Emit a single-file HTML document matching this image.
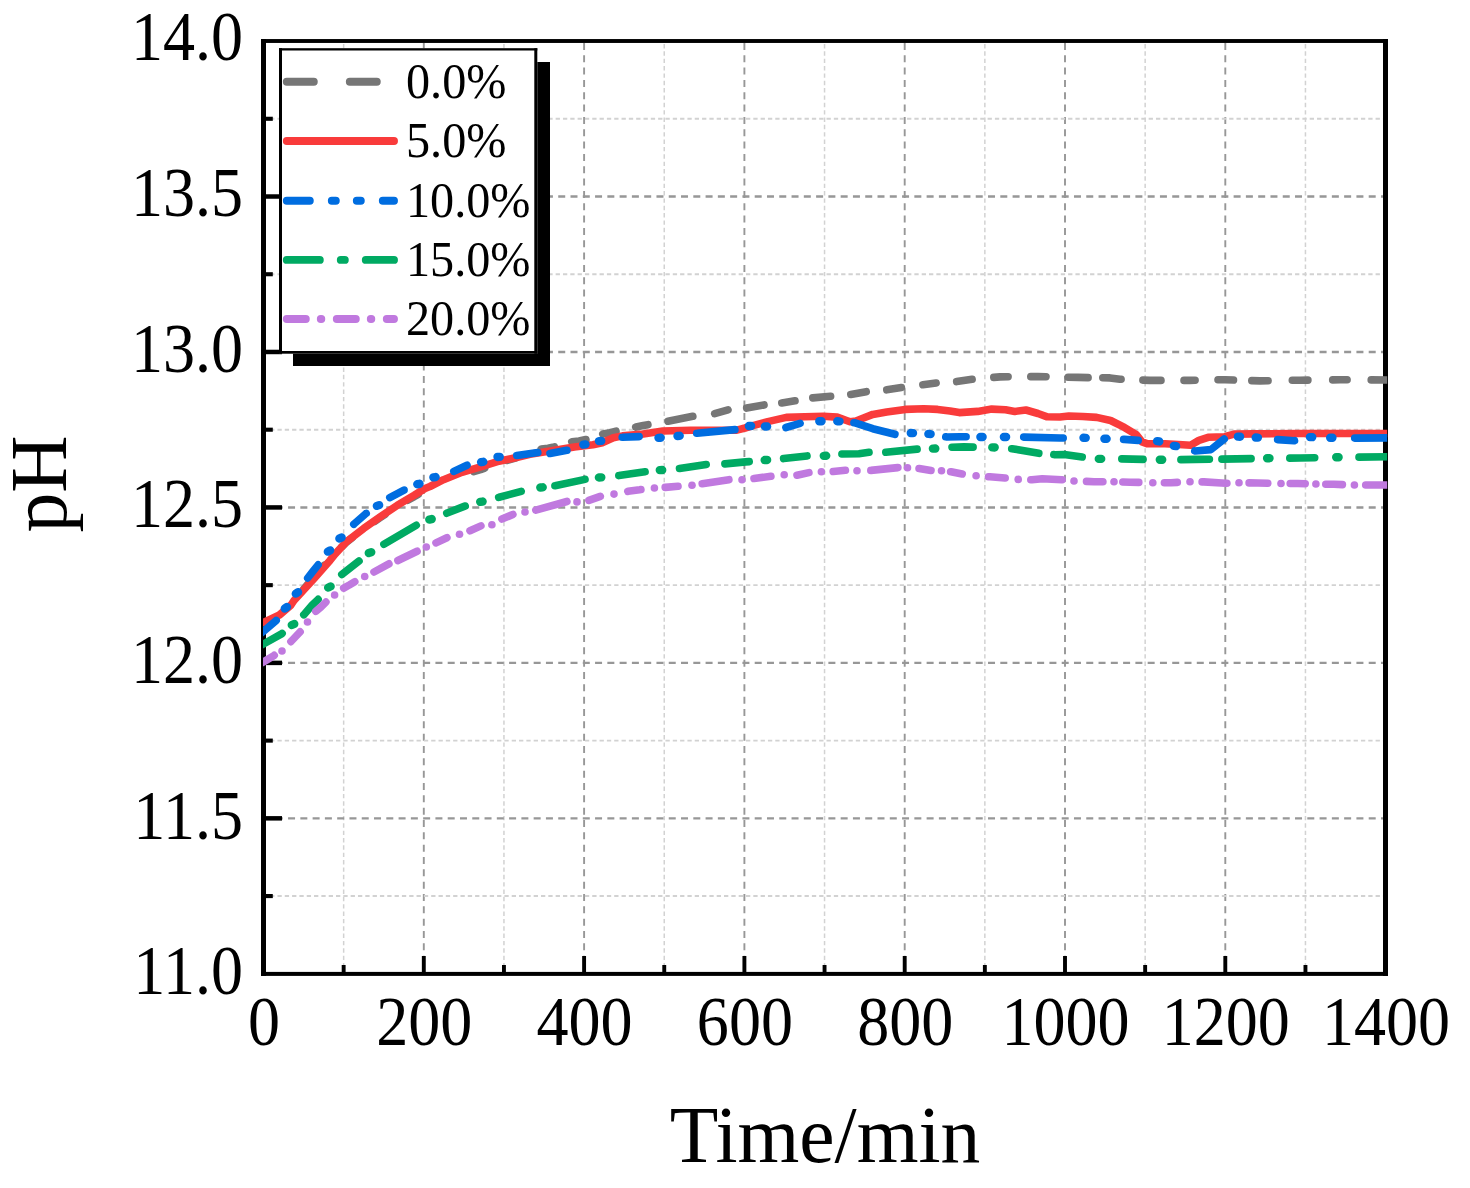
<!DOCTYPE html><html><head><meta charset="utf-8"><style>html,body{margin:0;padding:0;background:#fff;width:1470px;height:1188px;overflow:hidden}svg{display:block}</style></head><body>
<svg width="1470" height="1188" viewBox="0 0 1470 1188">
<rect width="1470" height="1188" fill="#fff"/>
<line x1="343.65" y1="44" x2="343.65" y2="972" stroke="#d2d2d2" stroke-width="1.5" stroke-dasharray="4.4 2.952"/>
<line x1="423.80" y1="42.9" x2="423.80" y2="972" stroke="#979797" stroke-width="1.9" stroke-dasharray="7 5.335"/>
<line x1="503.95" y1="44" x2="503.95" y2="972" stroke="#d2d2d2" stroke-width="1.5" stroke-dasharray="4.4 2.952"/>
<line x1="584.10" y1="42.9" x2="584.10" y2="972" stroke="#979797" stroke-width="1.9" stroke-dasharray="7 5.335"/>
<line x1="664.25" y1="44" x2="664.25" y2="972" stroke="#d2d2d2" stroke-width="1.5" stroke-dasharray="4.4 2.952"/>
<line x1="744.40" y1="42.9" x2="744.40" y2="972" stroke="#979797" stroke-width="1.9" stroke-dasharray="7 5.335"/>
<line x1="824.55" y1="44" x2="824.55" y2="972" stroke="#d2d2d2" stroke-width="1.5" stroke-dasharray="4.4 2.952"/>
<line x1="904.70" y1="42.9" x2="904.70" y2="972" stroke="#979797" stroke-width="1.9" stroke-dasharray="7 5.335"/>
<line x1="984.85" y1="44" x2="984.85" y2="972" stroke="#d2d2d2" stroke-width="1.5" stroke-dasharray="4.4 2.952"/>
<line x1="1065.00" y1="42.9" x2="1065.00" y2="972" stroke="#979797" stroke-width="1.9" stroke-dasharray="7 5.335"/>
<line x1="1145.15" y1="44" x2="1145.15" y2="972" stroke="#d2d2d2" stroke-width="1.5" stroke-dasharray="4.4 2.952"/>
<line x1="1225.30" y1="42.9" x2="1225.30" y2="972" stroke="#979797" stroke-width="1.9" stroke-dasharray="7 5.335"/>
<line x1="1305.45" y1="44" x2="1305.45" y2="972" stroke="#d2d2d2" stroke-width="1.5" stroke-dasharray="4.4 2.952"/>
<line x1="262.8" y1="118.78" x2="1383.5" y2="118.78" stroke="#d2d2d2" stroke-width="1.9" stroke-dasharray="4.3 3.021"/>
<line x1="263.5" y1="196.51" x2="1383.5" y2="196.51" stroke="#979797" stroke-width="2.4" stroke-dasharray="7 5.28"/>
<line x1="262.8" y1="274.24" x2="1383.5" y2="274.24" stroke="#d2d2d2" stroke-width="1.9" stroke-dasharray="4.3 3.021"/>
<line x1="263.5" y1="351.97" x2="1383.5" y2="351.97" stroke="#979797" stroke-width="2.4" stroke-dasharray="7 5.28"/>
<line x1="262.8" y1="429.70" x2="1383.5" y2="429.70" stroke="#d2d2d2" stroke-width="1.9" stroke-dasharray="4.3 3.021"/>
<line x1="263.5" y1="507.43" x2="1383.5" y2="507.43" stroke="#979797" stroke-width="2.4" stroke-dasharray="7 5.28"/>
<line x1="262.8" y1="585.15" x2="1383.5" y2="585.15" stroke="#d2d2d2" stroke-width="1.9" stroke-dasharray="4.3 3.021"/>
<line x1="263.5" y1="662.88" x2="1383.5" y2="662.88" stroke="#979797" stroke-width="2.4" stroke-dasharray="7 5.28"/>
<line x1="262.8" y1="740.61" x2="1383.5" y2="740.61" stroke="#d2d2d2" stroke-width="1.9" stroke-dasharray="4.3 3.021"/>
<line x1="263.5" y1="818.34" x2="1383.5" y2="818.34" stroke="#979797" stroke-width="2.4" stroke-dasharray="7 5.28"/>
<line x1="262.8" y1="896.07" x2="1383.5" y2="896.07" stroke="#d2d2d2" stroke-width="1.9" stroke-dasharray="4.3 3.021"/>
<rect x="261" y="39.05" width="1127" height="3.9" fill="#000"/>
<rect x="261" y="971.9" width="1127" height="4" fill="#000"/>
<rect x="261" y="39.05" width="5" height="936.85" fill="#000"/>
<rect x="1383" y="39.05" width="5" height="936.85" fill="#000"/>
<line x1="264" y1="118.78" x2="272.8" y2="118.78" stroke="#000" stroke-width="4.1"/>
<line x1="264" y1="196.51" x2="282.0" y2="196.51" stroke="#000" stroke-width="4.5"/>
<line x1="264" y1="274.24" x2="272.8" y2="274.24" stroke="#000" stroke-width="4.1"/>
<line x1="264" y1="351.97" x2="282.0" y2="351.97" stroke="#000" stroke-width="4.5"/>
<line x1="264" y1="429.70" x2="272.8" y2="429.70" stroke="#000" stroke-width="4.1"/>
<line x1="264" y1="507.43" x2="282.0" y2="507.43" stroke="#000" stroke-width="4.5"/>
<line x1="264" y1="585.15" x2="272.8" y2="585.15" stroke="#000" stroke-width="4.1"/>
<line x1="264" y1="662.88" x2="282.0" y2="662.88" stroke="#000" stroke-width="4.5"/>
<line x1="264" y1="740.61" x2="272.8" y2="740.61" stroke="#000" stroke-width="4.1"/>
<line x1="264" y1="818.34" x2="282.0" y2="818.34" stroke="#000" stroke-width="4.5"/>
<line x1="264" y1="896.07" x2="272.8" y2="896.07" stroke="#000" stroke-width="4.1"/>
<line x1="343.65" y1="973" x2="343.65" y2="965.0" stroke="#000" stroke-width="3.9"/>
<line x1="423.80" y1="973" x2="423.80" y2="956.0" stroke="#000" stroke-width="3.9"/>
<line x1="503.95" y1="973" x2="503.95" y2="965.0" stroke="#000" stroke-width="3.9"/>
<line x1="584.10" y1="973" x2="584.10" y2="956.0" stroke="#000" stroke-width="3.9"/>
<line x1="664.25" y1="973" x2="664.25" y2="965.0" stroke="#000" stroke-width="3.9"/>
<line x1="744.40" y1="973" x2="744.40" y2="956.0" stroke="#000" stroke-width="3.9"/>
<line x1="824.55" y1="973" x2="824.55" y2="965.0" stroke="#000" stroke-width="3.9"/>
<line x1="904.70" y1="973" x2="904.70" y2="956.0" stroke="#000" stroke-width="3.9"/>
<line x1="984.85" y1="973" x2="984.85" y2="965.0" stroke="#000" stroke-width="3.9"/>
<line x1="1065.00" y1="973" x2="1065.00" y2="956.0" stroke="#000" stroke-width="3.9"/>
<line x1="1145.15" y1="973" x2="1145.15" y2="965.0" stroke="#000" stroke-width="3.9"/>
<line x1="1225.30" y1="973" x2="1225.30" y2="956.0" stroke="#000" stroke-width="3.9"/>
<line x1="1305.45" y1="973" x2="1305.45" y2="965.0" stroke="#000" stroke-width="3.9"/>
<text transform="translate(243,60.4) scale(0.915,1)" text-anchor="end" font-family='"Liberation Serif", serif' font-size="70.0">14.0</text>
<text transform="translate(243,216.1) scale(0.915,1)" text-anchor="end" font-family='"Liberation Serif", serif' font-size="70.0">13.5</text>
<text transform="translate(243,371.8) scale(0.915,1)" text-anchor="end" font-family='"Liberation Serif", serif' font-size="70.0">13.0</text>
<text transform="translate(243,527.4) scale(0.915,1)" text-anchor="end" font-family='"Liberation Serif", serif' font-size="70.0">12.5</text>
<text transform="translate(243,683.1) scale(0.915,1)" text-anchor="end" font-family='"Liberation Serif", serif' font-size="70.0">12.0</text>
<text transform="translate(243,838.7) scale(0.915,1)" text-anchor="end" font-family='"Liberation Serif", serif' font-size="70.0">11.5</text>
<text transform="translate(243,994.4) scale(0.915,1)" text-anchor="end" font-family='"Liberation Serif", serif' font-size="70.0">11.0</text>
<text transform="translate(264.0,1045.2) scale(0.915,1)" text-anchor="middle" font-family='"Liberation Serif", serif' font-size="70.0">0</text>
<text transform="translate(424.3,1045.2) scale(0.915,1)" text-anchor="middle" font-family='"Liberation Serif", serif' font-size="70.0">200</text>
<text transform="translate(584.6,1045.2) scale(0.915,1)" text-anchor="middle" font-family='"Liberation Serif", serif' font-size="70.0">400</text>
<text transform="translate(744.9,1045.2) scale(0.915,1)" text-anchor="middle" font-family='"Liberation Serif", serif' font-size="70.0">600</text>
<text transform="translate(905.2,1045.2) scale(0.915,1)" text-anchor="middle" font-family='"Liberation Serif", serif' font-size="70.0">800</text>
<text transform="translate(1065.5,1045.2) scale(0.915,1)" text-anchor="middle" font-family='"Liberation Serif", serif' font-size="70.0">1000</text>
<text transform="translate(1225.8,1045.2) scale(0.915,1)" text-anchor="middle" font-family='"Liberation Serif", serif' font-size="70.0">1200</text>
<text transform="translate(1386.1,1045.2) scale(0.915,1)" text-anchor="middle" font-family='"Liberation Serif", serif' font-size="70.0">1400</text>
<text x="825" y="1162" text-anchor="middle" font-family='"Liberation Serif", serif' font-size="79.5">Time/min</text>
<text transform="translate(66,484) rotate(-90)" text-anchor="middle" font-family='"Liberation Serif", serif' font-size="79.5">pH</text>
<clipPath id="cp"><rect x="263" y="0" width="1124.2" height="1188"/></clipPath>
<g clip-path="url(#cp)" fill="none" stroke-width="7.6" stroke-linecap="round" stroke-linejoin="round">
<path stroke="#767676" d="M303.8 589.0 L314.4 576.5 L324.2 565.3 M341.8 546.9 L346.8 541.9 L352.2 537.8 M374.8 521.3 L380.5 517.4 L385.2 514.3 M407.8 500.3 L414.2 496.6 L418.2 494.5 M473.8 471.5 L480.6 469.6 L484.7 468.1 M507.3 460.4 L516.2 457.9 M541.2 449.1 L541.4 449.0 L548.0 448.2 L554.0 447.0 L554.4 446.9 M571.8 441.9 L572.0 441.8 L579.0 441.0 L585.9 439.5 M602.8 434.1 L603.0 434.0 L610.0 432.7 L616.0 431.2 M635.7 427.1 L636.0 427.0 L643.3 425.5 L647.9 424.7 M668.0 421.2 L692.8 416.3 M714.7 413.6 L728.0 409.8 M746.7 408.1 L764.0 404.9 M781.8 402.9 L795.0 400.8 M812.8 397.9 L830.6 396.2 M850.8 394.4 L866.2 391.7 M886.8 389.8 L901.4 387.5 M922.9 384.7 L936.1 383.0 M956.7 381.6 L972.1 379.3 M993.8 377.4 L1000.0 376.9 L1008.1 376.8 M1030.8 376.6 L1038.0 376.5 L1046.0 376.7 M1068.1 377.2 L1078.0 377.4 L1088.1 377.6 M1102.8 377.8 L1110.0 377.9 L1120.0 379.3 L1121.1 379.3 M1142.9 380.1 L1150.0 380.4 L1161.0 380.4 M1184.0 380.4 L1190.0 380.4 L1195.1 380.3 M1218.0 379.8 L1225.0 379.7 L1233.5 380.0 M1251.8 380.6 L1260.0 380.9 L1268.1 380.8 M1292.3 380.3 L1300.0 380.2 L1307.9 380.1 M1332.7 379.9 L1340.0 379.8 L1347.1 379.8 M1371.2 379.9 L1395.0 380.0 L1396.2 380.0"/>
<polyline stroke="#F93B3B" points="258.0,625.0 263.5,622.4 279.4,615.0 291.0,605.0 294.0,600.5 314.4,578.1 330.0,560.4 334.8,554.3 346.8,541.4 363.7,528.4 380.5,516.6 397.3,505.3 414.2,495.3 425.0,488.5 430.0,486.5 443.5,479.7 462.0,472.3 480.6,466.8 499.0,461.2 517.6,457.2 530.0,454.3 543.9,452.1 574.4,447.0 593.0,444.8 602.2,442.7 613.3,437.8 622.6,435.9 640.0,434.4 662.8,431.0 690.6,430.3 718.3,430.3 736.9,430.1 745.0,428.0 753.9,425.3 767.8,421.6 786.3,417.4 804.8,416.7 823.3,416.2 837.2,417.1 850.0,421.8 856.0,421.0 863.5,418.0 872.8,414.4 886.7,412.0 905.2,409.4 923.7,408.8 937.6,409.4 950.0,410.9 959.3,412.6 977.8,411.4 991.7,409.1 1005.6,409.8 1014.8,411.4 1025.9,410.0 1038.0,413.5 1047.2,416.8 1060.0,417.0 1068.9,416.0 1082.8,416.5 1096.7,417.4 1110.6,420.5 1124.4,427.4 1136.5,434.8 1142.0,441.8 1147.6,443.8 1165.0,443.8 1178.5,444.5 1190.6,445.2 1198.9,440.4 1208.1,437.3 1224.8,436.7 1234.0,434.1 1252.6,433.9 1300.0,433.5 1395.0,433.5"/>
<path stroke="#006DE0" d="M253.8 635.5 L258.0 635.5 L263.5 631.3 L276.1 620.6 L276.2 620.5 M307.7 578.0 L312.9 571.4 L318.0 565.0 L318.1 564.9 M353.8 524.2 L354.0 524.0 L366.0 513.5 L366.2 513.4 M389.8 497.6 L404.0 490.1 L404.1 490.1 M453.8 471.4 L467.0 465.2 M516.8 455.5 L537.8 452.6 M550.0 453.5 L566.9 450.3 M622.2 437.3 L622.3 437.3 L638.7 436.6 L639.1 436.6 M696.7 433.3 L697.0 433.3 L734.9 429.6 M785.9 427.5 L800.1 423.4 M853.9 422.7 L854.3 422.7 L872.8 428.7 L894.9 434.3 M945.8 436.8 L946.9 437.0 L960.0 436.7 L966.1 436.8 M1023.7 437.1 L1024.0 437.1 L1060.0 438.0 L1063.2 438.0 M1123.6 439.4 L1124.4 439.4 L1138.2 440.4 M1194.8 450.9 L1195.2 451.0 L1210.9 449.6 L1224.2 439.0 M1277.6 439.6 L1277.7 439.6 L1294.0 440.8 L1294.5 440.7 M1354.7 438.1 L1355.0 438.1 L1395.0 437.8 L1396.2 437.8"/><path stroke="#006DE0" stroke-width="8.4" d="M284.80 608.54 L287.00 607.05 M295.80 593.66 L298.00 592.14 M327.90 551.62 L330.10 550.38 M339.40 538.57 L341.60 537.43 M376.90 505.87 L379.10 505.13 M417.30 484.23 L419.50 483.77 M433.40 477.36 L435.60 477.04 M481.10 462.17 L483.30 461.83 M497.50 456.94 L499.70 456.86 M583.30 444.62 L585.50 444.38 M599.00 441.09 L601.20 440.91 M658.50 437.86 L660.70 437.75 M677.50 435.98 L679.70 435.82 M748.90 425.98 L751.10 426.02 M764.90 426.47 L767.10 426.53 M819.30 421.30 L821.50 421.30 M837.30 421.25 L839.50 421.35 M910.80 433.07 L913.00 433.13 M928.40 433.91 L930.60 434.09 M980.40 437.00 L982.60 437.00 M1003.90 437.00 L1006.10 437.00 M1083.50 437.77 L1085.70 437.83 M1104.40 438.78 L1106.60 438.82 M1157.10 441.15 L1159.30 441.45 M1173.90 445.86 L1176.10 446.14 M1237.90 436.67 L1240.10 436.73 M1255.70 437.55 L1257.90 437.65 M1310.00 437.08 L1312.20 437.12 M1330.20 437.79 L1332.40 437.81"/>
<path stroke="#00AA63" d="M253.8 647.0 L258.0 647.0 L263.5 644.0 L282.0 633.6 L282.1 633.5 M303.8 614.8 L303.9 614.7 L312.0 605.3 L318.1 599.4 M341.8 574.4 L359.0 561.0 M383.9 544.3 L416.3 525.3 M446.8 513.2 L447.2 513.0 L464.8 506.1 L465.2 506.0 M498.7 497.4 L499.1 497.3 L521.2 491.3 M554.9 485.7 L555.0 485.7 L585.0 479.4 M618.8 475.6 L618.9 475.6 L641.5 472.2 L645.1 471.8 M679.5 468.5 L706.2 464.5 M724.9 463.9 L745.6 461.9 L749.2 461.6 M783.6 458.6 L807.0 455.9 M841.9 454.0 L858.9 453.7 L869.0 452.3 M885.8 452.3 L917.1 449.1 M952.0 447.2 L963.9 446.9 L973.1 447.1 M1011.7 448.7 L1012.0 448.7 L1038.8 453.3 M1053.8 454.6 L1054.6 454.7 L1064.3 454.6 L1082.2 456.9 M1121.8 458.9 L1143.1 459.4 M1180.9 459.6 L1195.0 459.4 L1209.4 459.2 M1221.9 459.1 L1236.0 458.9 L1251.1 458.6 M1289.8 458.1 L1300.0 458.0 L1314.7 457.7 M1359.0 457.1 L1395.0 456.7 L1396.2 456.7"/><path stroke="#00AA63" stroke-width="8.4" d="M291.80 625.04 L294.20 623.96 M328.20 587.62 L330.60 586.38 M368.80 552.96 L371.20 552.24 M429.30 519.53 L431.70 519.07 M480.20 501.85 L482.60 501.55 M540.30 487.48 L542.70 487.32 M598.90 477.46 L601.30 477.34 M659.80 470.15 L662.20 470.05 M764.70 460.05 L767.10 459.95 M823.80 455.86 L826.20 455.74 M932.90 448.65 L935.30 448.55 M992.30 447.36 L994.70 447.44 M1098.80 458.90 L1101.20 458.90 M1159.80 459.81 L1162.20 459.79 M1267.10 458.20 L1269.50 458.20 M1336.20 457.31 L1338.60 457.29"/>
<path stroke="#C079DF" d="M253.8 665.0 L258.0 665.0 L263.5 661.9 L274.1 655.5 L274.2 655.4 M290.9 641.6 L291.0 641.5 L300.0 632.0 L300.1 631.9 M315.8 611.3 L320.9 607.0 L325.9 602.1 M343.7 588.1 L349.3 585.0 L354.8 581.7 M374.0 572.0 L388.9 563.8 M397.9 560.5 L417.1 551.3 M436.0 542.9 L446.9 537.7 M470.0 530.8 L480.9 525.9 M501.9 519.1 L512.9 514.4 M535.8 510.2 L566.9 501.5 M588.9 500.4 L600.3 496.3 M627.8 491.4 L628.1 491.3 L639.6 489.8 L640.9 489.6 M665.2 487.4 L678.0 486.2 M702.2 483.7 L728.9 479.7 M754.0 478.5 L770.9 476.3 M797.0 475.2 L808.9 472.6 M833.2 471.5 L845.4 470.2 M870.8 470.4 L870.9 470.4 L897.8 467.6 L897.9 467.6 M919.0 468.5 L919.1 468.5 L931.0 470.4 M950.6 471.7 L951.0 471.7 L962.2 474.0 M988.5 476.7 L989.9 476.8 L1004.9 478.0 L1005.2 478.0 M1030.8 479.8 L1031.8 479.8 L1042.3 478.7 L1061.8 479.8 L1062.2 479.8 M1086.5 481.4 L1094.0 481.7 L1102.9 481.7 M1122.8 482.0 L1130.0 482.2 L1138.8 482.4 M1164.4 482.7 L1171.0 482.7 L1177.3 482.4 M1202.1 481.9 L1203.8 481.9 L1225.7 483.2 L1226.9 483.2 M1249.1 482.9 L1258.0 483.0 L1267.8 483.2 M1290.2 483.5 L1298.0 483.5 L1305.2 483.7 M1325.8 484.2 L1334.0 484.3 L1342.4 484.6 M1365.7 485.0 L1395.0 485.0 L1396.2 485.0"/><g fill="#C079DF" stroke="none"><circle cx="282.0" cy="651.0" r="3.80"/><circle cx="307.5" cy="622.0" r="3.80"/><circle cx="334.6" cy="595.0" r="3.80"/><circle cx="364.7" cy="576.5" r="3.80"/><circle cx="426.3" cy="547.0" r="3.80"/><circle cx="459.5" cy="534.3" r="3.80"/><circle cx="491.9" cy="524.8" r="3.80"/><circle cx="525.0" cy="512.0" r="3.80"/><circle cx="577.0" cy="501.9" r="3.80"/><circle cx="614.0" cy="494.1" r="3.80"/><circle cx="654.4" cy="488.0" r="3.80"/><circle cx="692.0" cy="485.2" r="3.80"/><circle cx="742.0" cy="479.7" r="3.80"/><circle cx="784.2" cy="474.8" r="3.80"/><circle cx="821.4" cy="471.8" r="3.80"/><circle cx="857.0" cy="470.8" r="3.80"/><circle cx="907.5" cy="467.8" r="3.80"/><circle cx="941.5" cy="470.8" r="3.80"/><circle cx="976.1" cy="475.7" r="3.80"/><circle cx="1018.2" cy="479.4" r="3.80"/><circle cx="1074.0" cy="481.0" r="3.80"/><circle cx="1114.0" cy="481.7" r="3.80"/><circle cx="1152.8" cy="482.7" r="3.80"/><circle cx="1190.0" cy="481.8" r="3.80"/><circle cx="1239.0" cy="482.7" r="3.80"/><circle cx="1281.0" cy="483.5" r="3.80"/><circle cx="1315.9" cy="484.0" r="3.80"/><circle cx="1354.4" cy="485.0" r="3.80"/></g>
</g>
<rect x="293" y="62" width="257" height="304" fill="#000"/>
<rect x="279" y="48.2" width="258.3" height="305.5" fill="#fff"/>
<rect x="279" y="48.2" width="258.3" height="2.3" fill="#000"/>
<rect x="279" y="48.2" width="3" height="305.5" fill="#000"/>
<rect x="534.3" y="48.2" width="3" height="305.5" fill="#000"/>
<rect x="279" y="351" width="258.3" height="2.7" fill="#000"/>
<line x1="286.8" y1="81.8" x2="394" y2="81.8" stroke="#767676" stroke-width="7.9" stroke-linecap="round" stroke-dasharray="27 36"/>
<text transform="translate(406,98.2) scale(0.955,1)" font-family='"Liberation Serif", serif' font-size="50.5">0.0%</text>
<line x1="286.8" y1="141.0" x2="394" y2="141.0" stroke="#F93B3B" stroke-width="7.9" stroke-linecap="round"/>
<text transform="translate(406,157.4) scale(0.955,1)" font-family='"Liberation Serif", serif' font-size="50.5">5.0%</text>
<line x1="286.8" y1="200.8" x2="394" y2="200.8" stroke="#006DE0" stroke-width="7.9" stroke-linecap="round" stroke-dasharray="23 22 4 21 4 22"/>
<text transform="translate(406,217.2) scale(0.955,1)" font-family='"Liberation Serif", serif' font-size="50.5">10.0%</text>
<line x1="286.8" y1="259.9" x2="394" y2="259.9" stroke="#00AA63" stroke-width="7.9" stroke-linecap="round" stroke-dasharray="33 21 4 21"/>
<text transform="translate(406,276.3) scale(0.955,1)" font-family='"Liberation Serif", serif' font-size="50.5">15.0%</text>
<line x1="286.8" y1="319.0" x2="394" y2="319.0" stroke="#C079DF" stroke-width="7.9" stroke-linecap="round" stroke-dasharray="19 15 0.5 15.5"/>
<text transform="translate(406,335.4) scale(0.955,1)" font-family='"Liberation Serif", serif' font-size="50.5">20.0%</text>
</svg></body></html>
